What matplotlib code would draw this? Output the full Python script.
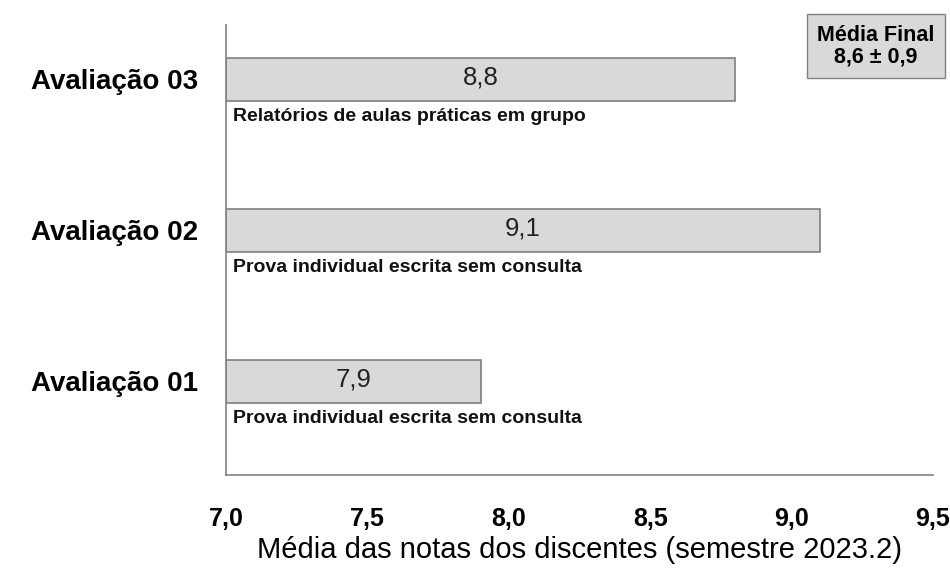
import matplotlib
matplotlib.use("Agg")
import matplotlib.pyplot as plt

avaliacoes = ["Avaliação 01", "Avaliação 02", "Avaliação 03"]
medias = [7.9, 9.1, 8.8]
descricoes = ["Prova individual escrita sem consulta",
              "Prova individual escrita sem consulta",
              "Relatórios de aulas práticas em grupo"]
xticks = [7.0, 7.5, 8.0, 8.5, 9.0, 9.5]
media_final = "Média Final\n8,6 ± 0,9"

plt.rcParams['font.family'] = ['Liberation Sans', 'DejaVu Sans']

fig = plt.figure(figsize=(9.5, 5.69), dpi=100)
ax = fig.add_axes([226/950, 1 - 475/569, (933-226)/950, (475-25)/569])

pos = [1, 2, 3]
ax.barh(pos, [m - 7.0 for m in medias], left=7.0, height=0.285,
        color="#d9d9d9", edgecolor="#7f7f7f", linewidth=1.2)

for p, m, d in zip(pos, medias, descricoes):
    ax.text((7.0 + m) / 2, p + 0.01, f"{m:.1f}".replace(".", ","), ha="center", va="center",
            fontsize=18.5, color="#222222")
    ax.text(7.025, p - 0.245, d, ha="left", va="center", fontsize=14,
            fontweight="bold", color="#111111")

ax.set_xlim(7.0, 9.5)
ax.set_ylim(0.38, 3.36)
ax.set_xticks(xticks)
ax.set_xticklabels([f"{t:.1f}".replace(".", ",") for t in xticks],
                   fontsize=18, fontweight="bold")
ax.set_yticks(pos)
ax.set_yticklabels(avaliacoes, fontsize=20, fontweight="bold")
ax.tick_params(axis="x", length=0, pad=23)
ax.tick_params(axis="y", length=0, pad=20)
ax.set_xlabel("Média das notas dos discentes (semestre 2023.2)", fontsize=21, labelpad=4)

for s in ["top", "right"]:
    ax.spines[s].set_visible(False)
for s in ["left", "bottom"]:
    ax.spines[s].set_color("#808080")
    ax.spines[s].set_linewidth(1.2)

fig.text(876/950, 1 - 46/569, media_final, ha="center", va="center", fontsize=15.5,
         fontweight="bold", linespacing=1.05,
         bbox=dict(boxstyle="square,pad=0.5", facecolor="#d9d9d9", edgecolor="#808080"))

fig.savefig("out.png", dpi=100)
